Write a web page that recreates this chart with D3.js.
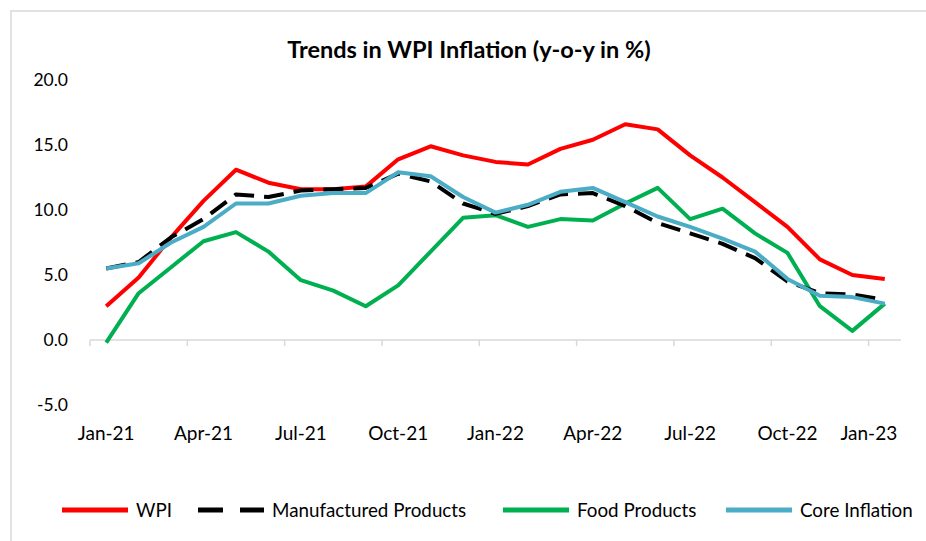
<!DOCTYPE html>
<html lang="en">
<head>
<meta charset="utf-8">
<title>Trends in WPI Inflation</title>
<script src="https://d3js.org/d3.v7.min.js"></script>
<style>
  body { margin: 0; background: #fff; }
  svg text { font-family: Lato, "Open Sans", sans-serif; fill: #000; }
</style>
</head>
<body>
<script>
// data
var months = ["Jan-21","Feb-21","Mar-21","Apr-21","May-21","Jun-21","Jul-21","Aug-21","Sep-21","Oct-21","Nov-21","Dec-21",
              "Jan-22","Feb-22","Mar-22","Apr-22","May-22","Jun-22","Jul-22","Aug-22","Sep-22","Oct-22","Nov-22","Dec-22","Jan-23"];
var tickLabels = ["Jan-21","Apr-21","Jul-21","Oct-21","Jan-22","Apr-22","Jul-22","Oct-22","Jan-23"];
var yTicks = [-5, 0, 5, 10, 15, 20];

var wpi          = [2.6, 4.8, 7.9, 10.7, 13.1, 12.1, 11.6, 11.6, 11.8, 13.9, 14.9, 14.2, 13.7, 13.5, 14.7, 15.4, 16.6, 16.2, 14.2, 12.5, 10.6, 8.7, 6.2, 5.0, 4.7];
var manufactured = [5.5, 6.0, 7.9, 9.3, 11.2, 11.0, 11.5, 11.6, 11.7, 12.8, 12.2, 10.5, 9.7, 10.3, 11.2, 11.3, 10.3, 9.0, 8.2, 7.4, 6.3, 4.5, 3.6, 3.5, 3.1];
var food         = [-0.2, 3.6, 5.6, 7.6, 8.3, 6.8, 4.6, 3.8, 2.6, 4.2, 6.8, 9.4, 9.6, 8.7, 9.3, 9.2, 10.5, 11.7, 9.3, 10.1, 8.2, 6.7, 2.6, 0.7, 2.8];
var core         = [5.5, 5.9, 7.5, 8.7, 10.5, 10.5, 11.1, 11.3, 11.3, 12.9, 12.6, 11.0, 9.8, 10.4, 11.4, 11.7, 10.6, 9.5, 8.7, 7.8, 6.8, 4.7, 3.4, 3.3, 2.8];

var series = [
    {name: "WPI", values: wpi, color: "#FF0000", dash: null},
    {name: "Manufactured Products", values: manufactured, color: "#000000", dash: "20,10"},
    {name: "Food Products", values: food, color: "#00B050", dash: null},
    {name: "Core Inflation", values: core, color: "#4BACC6", dash: null}
];
// draw order: black below blue so it peeks out like the original
var drawOrder = [series[0], series[2], series[1], series[3]];

var w = 926, h = 541;
var svg = d3.select("body").append("svg").attr("width", w).attr("height", h);

// chart frame (right and bottom edges fall outside the picture)
svg.append("rect").attr("x", 11).attr("y", 11).attr("width", w + 20).attr("height", h + 20)
    .attr("fill", "none").attr("stroke", "#D9D9D9").attr("stroke-width", 1.5);

svg.append("text").attr("x", 469).attr("y", 58).attr("text-anchor", "middle")
    .attr("font-size", 23.5).attr("font-weight", "bold")
    .text("Trends in WPI Inflation (y-o-y in %)");

var x = d3.scaleBand().domain(months).range([90, 901]);
var y = d3.scaleLinear().domain([-5, 20]).range([405, 80]);
var cx = function (m) { return x(m) + x.bandwidth() / 2; };

// y axis labels
var yAxis = svg.append("g").attr("transform", "translate(68,0)")
    .call(d3.axisLeft(y).tickValues(yTicks).tickSize(0).tickPadding(0)
        .tickFormat(function (d) { return d.toFixed(1); }));
yAxis.select(".domain").remove();
yAxis.selectAll("text").attr("font-size", 17.5).style("font-family", "Lato, 'Open Sans', sans-serif");

// zero line with tick marks at the start of each labelled quarter
svg.append("line").attr("x1", 90).attr("x2", 901).attr("y1", y(0)).attr("y2", y(0))
    .attr("stroke", "#D9D9D9").attr("stroke-width", 1.5);
svg.selectAll(".qtick").data(tickLabels).enter().append("line")
    .attr("x1", function (d) { return x(d); }).attr("x2", function (d) { return x(d); })
    .attr("y1", y(0)).attr("y2", y(0) + 6)
    .attr("stroke", "#D9D9D9").attr("stroke-width", 1.5);

// x labels sit below the plot
var xAxis = svg.append("g").attr("transform", "translate(0,426)")
    .call(d3.axisBottom(x).tickValues(tickLabels).tickSize(0).tickPadding(0));
xAxis.select(".domain").remove();
xAxis.selectAll("text").attr("font-size", 19).attr("dy", "0.71em").style("font-family", "Lato, 'Open Sans', sans-serif");
// last label nudged left to stay inside the plot, as the original does
xAxis.selectAll(".tick").filter(function (d) { return d === "Jan-23"; })
    .select("text").attr("x", -16);

var line = d3.line()
    .x(function (d, i) { return cx(months[i]); })
    .y(function (d) { return y(d); });

drawOrder.forEach(function (s) {
    svg.append("path").datum(s.values).attr("d", line)
        .attr("fill", "none").attr("stroke", s.color).attr("stroke-width", 4)
        .attr("stroke-linejoin", "round")
        .attr("stroke-dasharray", s.dash);
});

// legend
var legendX = [62, 198, 503, 726];
var legend = svg.selectAll(".legend").data(series).enter().append("g")
    .attr("transform", function (d, i) { return "translate(" + legendX[i] + ",510)"; });
legend.append("line").attr("x1", 0).attr("x2", 66).attr("y1", 0).attr("y2", 0)
    .attr("stroke", function (d) { return d.color; }).attr("stroke-width", 5)
    .attr("stroke-dasharray", function (d) { return d.dash ? "25,17" : null; });
legend.append("text").attr("x", 74).attr("y", 0).attr("dy", "0.35em").attr("font-size", 18.8)
    .text(function (d) { return d.name; });
</script>
</body>
</html>
